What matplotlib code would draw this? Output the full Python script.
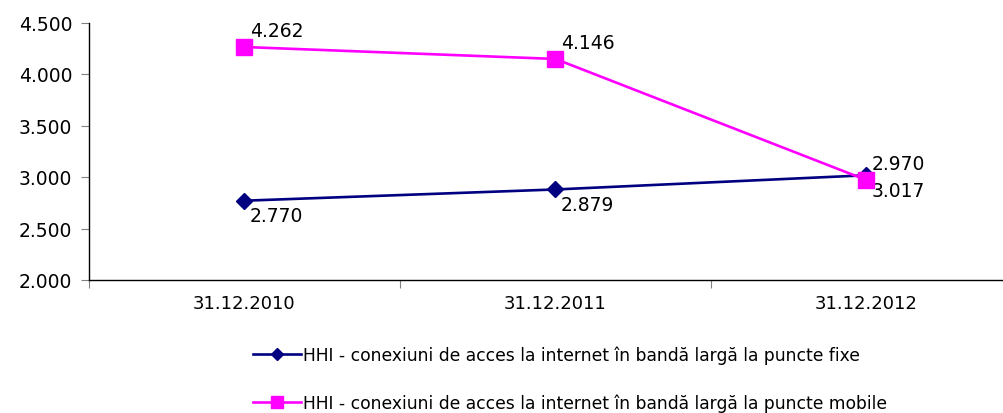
import matplotlib
matplotlib.use('Agg')
import matplotlib.pyplot as plt

plt.rcParams['font.family'] = ['DejaVu Sans']

# HHI values per year
dates = ['31.12.2010', '31.12.2011', '31.12.2012']
hhi_fixed = [2.770, 2.879, 3.017]
hhi_mobile = [4.262, 4.146, 2.970]
label_fixed = 'HHI - conexiuni de acces la internet în bandă largă la puncte fixe'
label_mobile = 'HHI - conexiuni de acces la internet în bandă largă la puncte mobile'

def fmt(v):
    return '{:.3f}'.format(v)

fig = plt.figure(figsize=(10.04, 4.14), dpi=100)
ax = fig.add_axes([89/1004, 133/414, 933/1004, 257.5/414])

x = list(range(len(dates)))
l1, = ax.plot(x, hhi_fixed, color='#000080', lw=1.9, marker='D', ms=8,
              label=label_fixed, clip_on=False, zorder=3)
l2, = ax.plot(x, hhi_mobile, color='#FF00FF', lw=1.9, marker='s', ms=11,
              label=label_mobile, clip_on=False, zorder=4)

for xi, v in zip(x, hhi_fixed):
    ax.annotate(fmt(v), (xi, v), xytext=(4, -11), textcoords='offset points',
                ha='left', va='center', fontsize=13.5)
for xi, v in zip(x, hhi_mobile):
    ax.annotate(fmt(v), (xi, v), xytext=(4, 12), textcoords='offset points',
                ha='left', va='center', fontsize=13.5)

ax.set_xlim(-0.5, 2.5)
ax.set_ylim(2.0, 4.5)
ax.set_yticks([2.0, 2.5, 3.0, 3.5, 4.0, 4.5])
ax.set_yticklabels([fmt(t) for t in ax.get_yticks()], fontsize=13.5)
ax.set_xticks([-0.5, 0.5, 1.5, 2.5])
ax.set_xticklabels([])
ax.set_xticks(x, minor=True)
ax.set_xticklabels(dates, minor=True, fontsize=13)
ax.tick_params(axis='x', which='minor', length=0, pad=10)
ax.tick_params(axis='x', which='major', length=6, color='#808080', direction='out')
ax.tick_params(axis='y', length=6, color='#808080', direction='out', pad=6)

for s in ['top', 'right']:
    ax.spines[s].set_visible(False)
ax.spines['left'].set_linewidth(1)
ax.spines['bottom'].set_linewidth(1)

fig.legend(handles=[l1, l2], loc='center', bbox_to_anchor=(570/1004, 1 - 380/414),
           frameon=False, fontsize=12.3, handlelength=2.8, handletextpad=0.15,
           labelspacing=1.75, markerscale=0.8)

fig.savefig('out.png', dpi=100)
